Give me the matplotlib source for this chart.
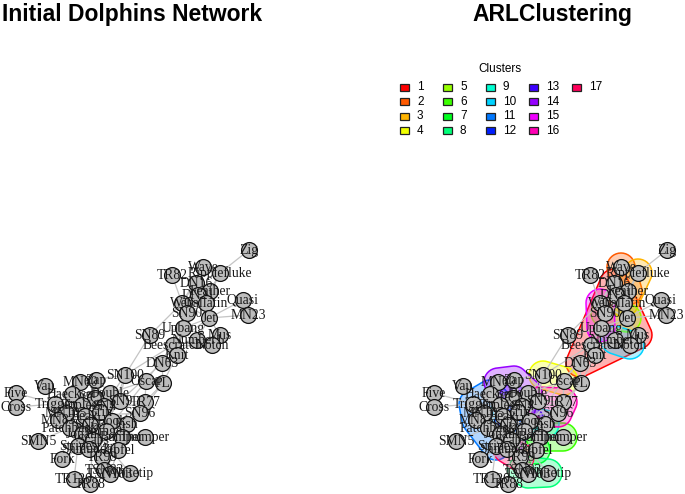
import numpy as np
import matplotlib.pyplot as plt
from matplotlib.patches import Polygon, Rectangle
from matplotlib.colors import hsv_to_rgb

# vertex names and layout positions (pixel units, y down)
node_names = ["Zig", "Wave", "Ripplefluke", "TR82", "DN16", "Feather", "DN21", "Web",
              "Gallatin", "Quasi", "SN90", "Jet", "MN23", "Upbang", "Mus", "SN89",
              "Number1", "Notch", "Beescratch", "Knit", "DN63",
              "SN100", "Oscar", "PL",
              "MN60", "Zap", "Vau", "Five", "Cross", "Haecksel", "Trigger", "Double",
              "CCL", "SN9", "SN4", "TR77", "SN96", "Topless", "MN105", "MN83", "Beak",
              "Grin", "Hook", "SN63", "Kringel", "Fish", "Patchback", "Jonah", "Scabs",
              "Stripes", "Bumper", "Thumper", "SMN5", "Shmuddel", "Zipfel", "TR99",
              "Fork", "TSN83", "TSN103", "Whitetip", "TR120", "TR88"]
node_x = [249, 203, 220, 172, 196, 210, 198, 182,
          206, 243, 187, 209, 248, 183, 220, 150,
          197, 212, 173, 177, 162,
          125, 146, 163,
          80, 96, 45, 16, 16, 72, 55, 110,
          95, 120, 104, 145, 140, 82, 66, 58, 85,
          100, 112, 90, 106, 127, 70, 82, 93,
          78, 122, 145, 38, 89, 118, 102,
          62, 104, 110, 130, 74, 90]
node_y = [250, 267, 273, 275, 283, 291, 295, 303,
          303, 300, 313, 318, 315, 328, 335, 335,
          340, 345, 345, 355, 363,
          375, 381, 383,
          382, 380, 386, 393, 407, 394, 404, 393,
          398, 401, 406, 402, 413, 405, 413, 420, 416,
          412, 421, 425, 431, 424, 428, 434, 440,
          446, 437, 437, 441, 449, 450, 457,
          459, 470, 474, 473, 479, 484]

edges = [("Double", "CCL"), ("Feather", "DN16"), ("Feather", "DN21"), ("Fish", "Beak"),
         ("Fish", "Bumper"), ("Gallatin", "DN16"), ("Grin", "Beak"), ("Grin", "CCL"),
         ("Haecksel", "Beak"), ("Hook", "Grin"), ("Jet", "Beescratch"), ("Jet", "DN21"),
         ("Jet", "Feather"), ("Jet", "Gallatin"), ("Jonah", "Haecksel"), ("Knit", "Beescratch"),
         ("Knit", "DN63"), ("Kringel", "Double"), ("Kringel", "Hook"), ("Kringel", "Jonah"),
         ("MN105", "Jonah"), ("MN23", "Jet"), ("MN83", "Grin"), ("MN83", "Haecksel"),
         ("MN83", "Jonah"), ("Mus", "Jet"), ("Notch", "Beescratch"), ("Notch", "Mus"),
         ("Number1", "Beescratch"), ("Number1", "DN63"), ("Number1", "Jet"), ("Number1", "Mus"),
         ("Number1", "Notch"), ("Oscar", "Beescratch"), ("Oscar", "Double"), ("Oscar", "Kringel"),
         ("Patchback", "Fish"), ("Patchback", "MN105"), ("Patchback", "MN83"), ("PL", "DN63"),
         ("PL", "Knit"), ("PL", "Oscar"), ("Quasi", "Jet"), ("Ripplefluke", "Feather"),
         ("Ripplefluke", "Gallatin"), ("Scabs", "Fork"), ("Scabs", "Grin"), ("Scabs", "Hook"),
         ("Scabs", "MN105"), ("Shmuddel", "Grin"), ("Shmuddel", "Scabs"), ("SMN5", "Patchback"),
         ("SN100", "Beescratch"), ("SN100", "Kringel"), ("SN100", "MN60"), ("SN4", "Double"),
         ("SN4", "Grin"), ("SN4", "Hook"), ("SN4", "MN105"), ("SN4", "Shmuddel"),
         ("SN4", "SN100"), ("SN63", "Grin"), ("SN63", "Hook"), ("SN63", "Kringel"),
         ("SN63", "Scabs"), ("SN89", "SN100"), ("SN9", "Beak"), ("SN9", "DN63"),
         ("SN9", "Grin"), ("SN9", "Haecksel"), ("SN9", "Scabs"), ("SN9", "SN100"),
         ("SN9", "SN4"), ("SN90", "Beescratch"), ("SN90", "Feather"), ("SN90", "Gallatin"),
         ("SN96", "Beak"), ("SN96", "Bumper"), ("SN96", "Fish"), ("SN96", "PL"),
         ("Stripes", "Grin"), ("Stripes", "Patchback"), ("Stripes", "Scabs"), ("Stripes", "SN4"),
         ("Stripes", "SN63"), ("Thumper", "Bumper"), ("Thumper", "Kringel"), ("Thumper", "Shmuddel"),
         ("Thumper", "SN63"), ("Topless", "Double"), ("Topless", "Haecksel"), ("Topless", "Jonah"),
         ("Topless", "MN105"), ("Topless", "MN60"), ("Topless", "MN83"), ("Topless", "Patchback"),
         ("Topless", "SN4"), ("TR120", "Stripes"), ("TR77", "Beak"), ("TR77", "Fish"),
         ("TR77", "Kringel"), ("TR77", "Oscar"), ("TR77", "PL"), ("TR77", "SN9"),
         ("TR82", "Web"), ("TR88", "Scabs"), ("TR99", "Grin"), ("TR99", "Hook"),
         ("Trigger", "Cross"), ("Trigger", "Five"), ("Trigger", "Haecksel"), ("Trigger", "Topless"),
         ("Trigger", "MN83"), ("Trigger", "Patchback"), ("Trigger", "Jonah"), ("Trigger", "Stripes"),
         ("TSN103", "Zipfel"), ("TSN83", "Shmuddel"), ("Upbang", "Beescratch"), ("Upbang", "Jet"),
         ("Upbang", "SN90"), ("Upbang", "SN89"), ("Vau", "Topless"), ("Wave", "Web"),
         ("Wave", "Ripplefluke"), ("Web", "DN16"), ("Web", "DN21"), ("Web", "Feather"),
         ("Web", "Gallatin"), ("Web", "Jet"), ("Web", "SN89"), ("Web", "SN90"),
         ("Web", "Upbang"), ("Whitetip", "SN63"), ("Zap", "CCL"), ("Zap", "Grin"),
         ("Zap", "Hook"), ("Zap", "Kringel"), ("Zap", "Scabs"), ("Zap", "SN9"),
         ("Zig", "Ripplefluke"), ("Zipfel", "Bumper"), ("Zipfel", "SN4"), ("Zipfel", "TSN83")]

cluster_ids = list(range(1, 18))
cluster_members = [
    ["DN63", "Knit", "Beescratch", "Mus", "DN16", "DN21"],
    ["Wave", "Feather"],
    ["Gallatin", "Ripplefluke"],
    ["SN100", "Oscar"],
    ["Jet", "SN90"],
    ["Thumper", "Bumper"],
    ["Kringel", "Zipfel"],
    ["TSN83", "TSN103", "Whitetip"],
    ["Beak", "Fish"],
    ["Notch", "Number1"],
    ["Trigger", "Haecksel", "Patchback", "MN83", "Jonah", "Topless", "MN105", "Stripes"],
    ["Grin", "Hook", "SN63"],
    ["Scabs", "SN4", "CCL"],
    ["MN60", "Zap", "Double"],
    ["Web", "Upbang"],
    ["TR77", "SN96", "SN9"],
    ["Shmuddel", "TR99"],
]

pos = {n: (x, y) for n, x, y in zip(node_names, node_x, node_y)}
colors = [hsv_to_rgb((i / 17, 1, 1)) for i in range(17)]


def hull(points):
    pts = sorted(set(points))
    def cross(o, a, b):
        return (a[0] - o[0]) * (b[1] - o[1]) - (a[1] - o[1]) * (b[0] - o[0])
    lower, upper = [], []
    for p in pts:
        while len(lower) >= 2 and cross(lower[-2], lower[-1], p) <= 0:
            lower.pop()
        lower.append(p)
    for p in reversed(pts):
        while len(upper) >= 2 and cross(upper[-2], upper[-1], p) <= 0:
            upper.pop()
        upper.append(p)
    return lower[:-1] + upper[:-1]


def draw_network(ax, dx, groups=False):
    if groups:
        ang = np.linspace(0, 2 * np.pi, 36, endpoint=False)
        for col, members in zip(colors, cluster_members):
            pts = []
            for m in members:
                x, y = pos[m]
                pts += [(round(x + dx + 14 * np.cos(a), 3), round(y + 14 * np.sin(a), 3)) for a in ang]
            h = hull(pts)
            ax.add_patch(Polygon(h, closed=True, facecolor=(*col, 0.3), edgecolor=col,
                                 lw=1.1, zorder=1))
    for a, b in edges:
        (x1, y1), (x2, y2) = pos[a], pos[b]
        ax.plot([x1 + dx, x2 + dx], [y1, y2], color="#c4c4c4", lw=0.9, zorder=2)
    ax.scatter(np.array(node_x) + dx, node_y, s=130, facecolor="#bdbdbd",
               edgecolor="#111111", linewidth=0.9, zorder=3)
    for n, x, y in zip(node_names, node_x, node_y):
        ax.text(x + dx, y, n, ha="center", va="center", fontsize=9.8,
                family="Liberation Serif", color="#1a1a1a", zorder=4)


fig = plt.figure(figsize=(6.85, 4.94), dpi=100)
ax = fig.add_axes([0, 0, 1, 1])
ax.set_xlim(0, 685)
ax.set_ylim(494, 0)
ax.axis("off")

draw_network(ax, 0)
draw_network(ax, 418, groups=True)

ax.text(132, 14, "Initial Dolphins Network", ha="center", va="center", fontsize=16.5,
        fontweight="bold", family="Liberation Sans")
ax.text(552, 14, "ARLClustering", ha="center", va="center", fontsize=16.5,
        fontweight="bold", family="Liberation Sans")

# legend
ax.text(500, 69, "Clusters", ha="center", va="center", fontsize=8.5, family="Liberation Sans")
for k, (cid, col) in enumerate(zip(cluster_ids, colors)):
    c, r = k // 4, k % 4
    sx, sy = 405 + 43 * c, 87.5 + 14.4 * r
    ax.add_patch(Rectangle((sx - 4.5, sy - 3.5), 9, 7, facecolor=col, edgecolor="#222222",
                           lw=0.9, zorder=5))
    ax.text(sx + 12, sy, str(cid), ha="left", va="center", fontsize=8.5,
            family="Liberation Sans", zorder=5)

fig.savefig("out.png", dpi=100)
